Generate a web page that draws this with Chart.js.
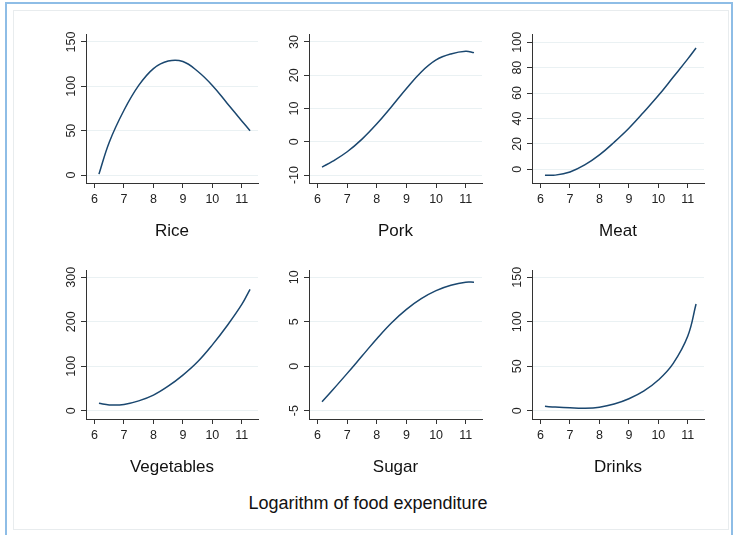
<!DOCTYPE html>
<html>
<head>
<meta charset="utf-8">
<script src="https://cdn.jsdelivr.net/npm/chart.js@4/dist/chart.umd.min.js"></script>
<style>
  body { margin: 0; background: #fff; }
  #fig { position: relative; width: 736px; height: 535px; overflow: hidden; background: #fff; font-family: "Liberation Sans", Arial, sans-serif; }
  #outer { position: absolute; left: 5px; top: 2px; width: 724px; height: 560px; border: 2px solid #8ebde6; }
  #inner { position: absolute; left: 13px; top: 10px; width: 714px; height: 518px; border: 1px solid #e8ecee; }
  canvas { position: absolute; }
  #xtitle { position: absolute; left: 0; width: 736px; top: 493px; text-align: center; font-size: 18px; color: #111; }
</style>
</head>
<body>
<div id="fig">
  <div id="outer"></div>
  <div id="inner"></div>
  <canvas id="c0"></canvas>
  <canvas id="c1"></canvas>
  <canvas id="c2"></canvas>
  <canvas id="c3"></canvas>
  <canvas id="c4"></canvas>
  <canvas id="c5"></canvas>
  <div id="xtitle">Logarithm of food expenditure</div>
</div>
<script>
// log food expenditure at which each curve is read
var xPoints = [6.15, 6.5, 7, 7.5, 8, 8.5, 9, 9.5, 10, 10.5, 11, 11.28];
var xTicks = [6, 7, 8, 9, 10, 11];

var rice = [1, 37, 73, 101, 120, 128.5, 128, 117, 101, 81, 61, 50];
var pork = [-7.6, -5.9, -3.0, 0.8, 5.4, 10.6, 16.0, 21.0, 24.6, 26.4, 27.2, 26.8];
var meat = [-4.7, -4.6, -2.1, 3.4, 11.3, 21.3, 32.3, 44.9, 58, 72.4, 86.9, 95.5];
var vegetables = [16.5, 13, 14, 22, 35, 55, 80, 110, 148, 191, 239, 273];
var sugar = [-4.0, -2.7, -0.8, 1.15, 3.1, 4.9, 6.4, 7.6, 8.5, 9.1, 9.45, 9.45];
var drinks = [4.9, 4.1, 3.3, 2.9, 4.0, 7.5, 13.5, 22, 34.5, 53, 84, 120];

var titles = ["Rice", "Pork", "Meat", "Vegetables", "Sugar", "Drinks"];
var yTicksRice = [0, 50, 100, 150];
var yTicksPork = [-10, 0, 10, 20, 30];
var yTicksMeat = [0, 20, 40, 60, 80, 100];
var yTicksVeg = [0, 100, 200, 300];
var yTicksSugar = [-5, 0, 5, 10];
var yTicksDrinks = [0, 50, 100, 150];

var panels = [
    { data: rice, ticks: yTicksRice, min: -9, max: 159 },
    { data: pork, ticks: yTicksPork, min: -12.4, max: 32.4 },
    { data: meat, ticks: yTicksMeat, min: -10.8, max: 106.5 },
    { data: vegetables, ticks: yTicksVeg, min: -18.7, max: 316.5 },
    { data: sugar, ticks: yTicksSugar, min: -5.93, max: 10.82 },
    { data: drinks, ticks: yTicksDrinks, min: -9.3, max: 158.2 }
];

// plot area edges in page pixels
var colLeft = [86, 309, 532];
var colRight = [258, 482, 704];
var rowTop = [34, 270];
var plotH = 149;
var yAxisW = 50, xAxisH = 62, padTop = 8, padRight = 12;

var tickFont = '12.5px "Liberation Sans", Arial, sans-serif';

// y tick labels are rotated like the original
var rotatedYLabels = {
    id: 'rotatedYLabels',
    afterDraw: function (chart) {
        var s = chart.scales.y;
        var ctx = chart.ctx;
        ctx.save();
        ctx.font = tickFont;
        ctx.fillStyle = '#222';
        ctx.textAlign = 'center';
        ctx.textBaseline = 'alphabetic';
        s.ticks.forEach(function (t) {
            var py = s.getPixelForValue(t.value);
            ctx.save();
            ctx.translate(s.right - 11, py);
            ctx.rotate(-Math.PI / 2);
            ctx.fillText(String(t.value), 0, 0);
            ctx.restore();
        });
        ctx.restore();
    }
};

Chart.defaults.font.family = '"Liberation Sans", Arial, sans-serif';
Chart.defaults.color = '#222';

panels.forEach(function (p, i) {
    var col = i % 3, row = Math.floor(i / 3);
    var canvas = document.getElementById('c' + i);
    var w = colRight[col] - colLeft[col] + yAxisW + padRight;
    var h = padTop + plotH + xAxisH;
    canvas.width = w;
    canvas.height = h;
    canvas.style.left = (colLeft[col] - yAxisW) + 'px';
    canvas.style.top = (rowTop[row] - padTop) + 'px';

    new Chart(canvas.getContext('2d'), {
        type: 'line',
        data: {
            datasets: [{
                data: xPoints.map(function (x, k) { return { x: x, y: p.data[k] }; }),
                borderColor: '#1a476f',
                borderWidth: 1.5,
                pointRadius: 0,
                tension: 0.4,
                fill: false
            }]
        },
        plugins: [rotatedYLabels],
        options: {
            responsive: false,
            animation: false,
            devicePixelRatio: 1,
            layout: { padding: { left: 0, right: padRight, top: padTop, bottom: 0 } },
            plugins: { legend: { display: false }, tooltip: { enabled: false } },
            scales: {
                x: {
                    type: 'linear',
                    min: 5.71,
                    max: 11.55,
                    afterBuildTicks: function (s) { s.ticks = xTicks.map(function (v) { return { value: v }; }); },
                    afterFit: function (s) { s.height = xAxisH; },
                    grid: { drawOnChartArea: false, drawTicks: true, tickLength: 5, tickColor: '#333', tickWidth: 1 },
                    border: { display: true, color: '#333', width: 1 },
                    ticks: { font: { size: 12.5 }, color: '#222', padding: 4, maxRotation: 0, autoSkip: false },
                    title: { display: true, text: titles[i], font: { size: 17 }, color: '#111', padding: { top: 0, bottom: 3 } }
                },
                y: {
                    type: 'linear',
                    min: p.min,
                    max: p.max,
                    afterBuildTicks: function (s) { s.ticks = p.ticks.map(function (v) { return { value: v }; }); },
                    afterFit: function (s) { s.width = yAxisW; },
                    grid: { color: '#eaf1f3', lineWidth: 1, drawTicks: true, tickLength: 5, tickColor: '#333' },
                    border: { display: true, color: '#333', width: 1 },
                    ticks: { display: false }
                }
            }
        }
    });
});
</script>
</body>
</html>
